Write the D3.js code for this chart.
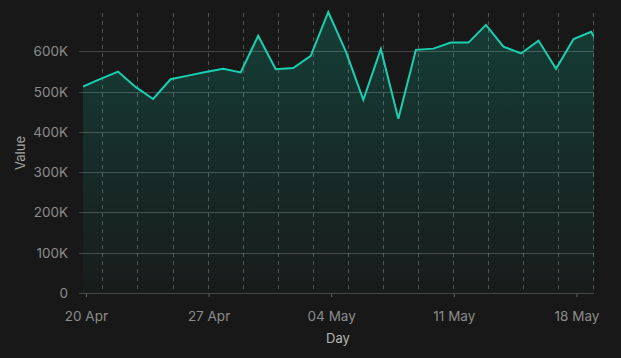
<!DOCTYPE html>
<html>
<head>
<meta charset="utf-8">
<script src="https://cdn.jsdelivr.net/npm/d3@7"></script>
<style>
  html, body { margin: 0; padding: 0; background: #181818; }
  svg { display: block; font-family: Inter, "DejaVu Sans", sans-serif; }
</style>
</head>
<body>
<svg id="chart" width="621" height="358"></svg>
<script>
// ---- data ----
const startDate = new Date(2020, 3, 19, 20, 0); // first sample (local time)
const values = [513, 532, 550, 512, 482, 531, 540, 549, 557, 548,
                639, 556, 559, 589, 698, 600, 480, 606, 433, 604,
                607, 622, 622, 666, 612, 595, 627, 557, 631, 649, 578];
const yTickValues = [0, 100, 200, 300, 400, 500, 600];
const xAxisLabel = "Day";
const yAxisLabel = "Value";

const data = values.map((v, i) => ({ date: d3.timeDay.offset(startDate, i), value: v * 1000 }));

// ---- layout ----
const svg = d3.select("#chart");
const mLeft = 83, mRight = 594, mTop = 12, mBottom = 293;

const x = d3.scaleTime()
  .domain([startDate, new Date(2020, 4, 19)])
  .range([mLeft, mRight]);
const y = d3.scaleLinear()
  .domain([0, d3.max(data, d => d.value)])
  .range([mBottom, mTop]);

const defs = svg.append("defs");
const grad = defs.append("linearGradient")
  .attr("id", "fillGrad")
  .attr("gradientUnits", "userSpaceOnUse")
  .attr("x1", 0).attr("x2", 0)
  .attr("y1", mTop).attr("y2", mBottom);
grad.append("stop").attr("offset", "0%").attr("stop-color", "#153e37");
grad.append("stop").attr("offset", "100%").attr("stop-color", "#181c1b");

defs.append("clipPath").attr("id", "clip")
  .append("rect").attr("x", mLeft).attr("y", 0).attr("width", mRight - mLeft).attr("height", mBottom + 1);

// area
svg.append("path")
  .datum(data)
  .attr("clip-path", "url(#clip)")
  .attr("fill", "url(#fillGrad)")
  .attr("d", d3.area().x(d => x(d.date)).y0(y(0)).y1(d => y(d.value)));

// horizontal grid
svg.append("g")
  .selectAll("line")
  .data(yTickValues)
  .join("line")
  .attr("x1", mLeft - 4).attr("x2", mRight)
  .attr("y1", d => Math.round(y(d * 1000)) + 0.5).attr("y2", d => Math.round(y(d * 1000)) + 0.5)
  .attr("stroke", "rgba(255,255,255,0.2)")
  .attr("stroke-width", 1);

// vertical dashed grid
svg.append("g")
  .selectAll("line")
  .data(x.ticks(d3.timeDay.every(2)))
  .join("line")
  .attr("x1", d => Math.round(x(d)) - 0.5).attr("x2", d => Math.round(x(d)) - 0.5)
  .attr("y1", mTop + 1).attr("y2", mBottom - 2)
  .attr("stroke", "rgba(255,255,255,0.25)")
  .attr("stroke-dasharray", "4,4");

// line
svg.append("path")
  .datum(data)
  .attr("clip-path", "url(#clip)")
  .attr("fill", "none")
  .attr("stroke", "#19d0b0")
  .attr("stroke-width", 2)
  .attr("stroke-linejoin", "miter")
  .attr("d", d3.line().x(d => x(d.date)).y(d => y(d.value)));

// y axis labels
svg.append("g")
  .selectAll("text")
  .data(yTickValues)
  .join("text")
  .attr("x", mLeft - 15)
  .attr("y", d => y(d * 1000))
  .attr("dy", "0.36em")
  .attr("text-anchor", "end")
  .attr("fill", "#8c8c8c")
  .attr("font-size", 13.5)
  .text(d => d === 0 ? "0" : d + "K");

// x axis
const xAxis = d3.axisBottom(x)
  .ticks(d3.timeMonday.every(1))
  .tickFormat(d3.timeFormat("%d %b"))
  .tickSize(3)
  .tickPadding(14);
const gx = svg.append("g")
  .attr("transform", `translate(0,${mBottom + 1})`)
  .call(xAxis);
gx.select(".domain").remove();
gx.selectAll(".tick line").attr("stroke", "#666");
gx.selectAll(".tick text")
  .attr("fill", "#8c8c8c")
  .attr("font-size", 13.5)
  .attr("font-family", "Inter, 'DejaVu Sans', sans-serif");

// axis titles
svg.append("text")
  .attr("x", (mLeft + mRight) / 2 - 0.5)
  .attr("y", 338)
  .attr("dy", "0.36em")
  .attr("text-anchor", "middle")
  .attr("fill", "#b5b5b5")
  .attr("font-size", 13)
  .text(xAxisLabel);

svg.append("text")
  .attr("transform", "translate(20,153) rotate(-90)")
  .attr("dy", "0.36em")
  .attr("text-anchor", "middle")
  .attr("fill", "#a5a5a5")
  .attr("font-size", 13)
  .text(yAxisLabel);
</script>
</body>
</html>
